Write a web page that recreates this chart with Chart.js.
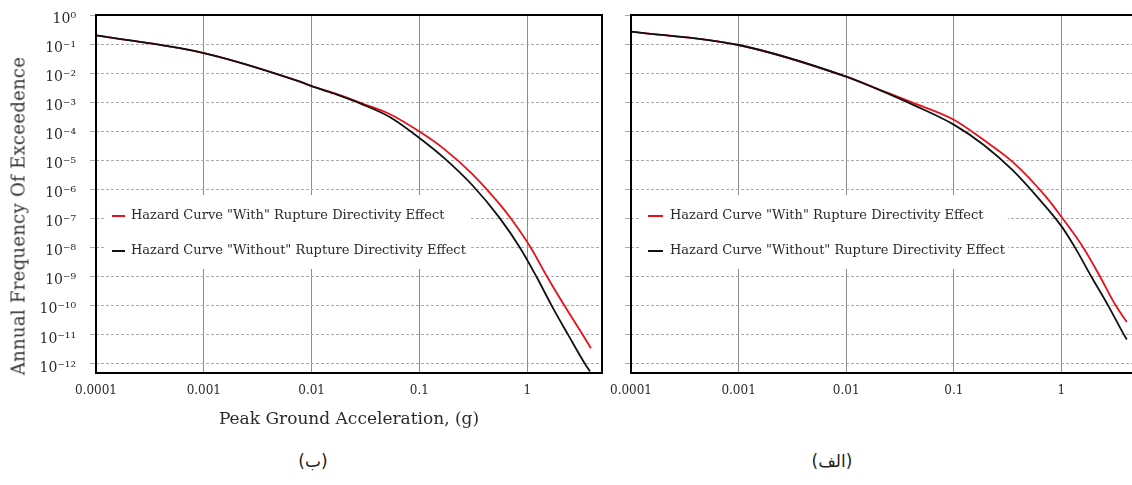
<!DOCTYPE html>
<html>
<head>
<meta charset="utf-8">
<script src="https://cdn.jsdelivr.net/npm/chart.js@4.4.1/dist/chart.umd.min.js"></script>
<style>
  body { margin: 0; background: #fff; width: 1132px; height: 485px; position: relative; overflow: hidden; font-family: "DejaVu Serif", serif; }
  canvas { position: absolute; top: 0; }
  #chart-b { left: 0; }
  #chart-alef { left: 560px; }
  .y-title { position: absolute; left: 18px; top: 216px; transform: translate(-50%, -50%) rotate(-90deg); white-space: nowrap; font-size: 18px; letter-spacing: 0.3px; color: #333; }
  .caption { position: absolute; top: 461px; transform: translate(-50%, -50%); font-family: "DejaVu Sans", sans-serif; font-size: 17px; color: #222; }
</style>
</head>
<body>
<canvas id="chart-b" width="612" height="440"></canvas>
<canvas id="chart-alef" width="572" height="440"></canvas>
<div class="y-title">Annual Frequency Of Exceedence</div>
<div class="caption" style="left:313px">(ب)</div>
<div class="caption" style="left:832px">(الف)</div>
<script>
// Axis ticks
const xTicks = [0.0001, 0.001, 0.01, 0.1, 1];
const xTickLabels = ['0.0001', '0.001', '0.01', '0.1', '1'];
const yTicks = [1, 1e-1, 1e-2, 1e-3, 1e-4, 1e-5, 1e-6, 1e-7, 1e-8, 1e-9, 1e-10, 1e-11, 1e-12];
const yTickLabels = ['10⁰', '10⁻¹', '10⁻²', '10⁻³', '10⁻⁴', '10⁻⁵', '10⁻⁶', '10⁻⁷', '10⁻⁸', '10⁻⁹', '10⁻¹⁰', '10⁻¹¹', '10⁻¹²'];

const seriesLabels = ['Hazard Curve "With" Rupture Directivity Effect', 'Hazard Curve "Without" Rupture Directivity Effect'];

// Panel (ب) - left
const pgaB_with = [0.0001, 0.001, 0.0078, 0.01, 0.016, 0.030, 0.054, 0.1, 0.17, 0.31, 0.56, 0.72, 1.08, 1.53, 2.22, 3.28, 3.9];
const freqB_with = [0.20, 0.049, 0.0051, 0.0036, 0.0021, 8.9e-4, 3.8e-4, 9.8e-5, 2.45e-5, 3.4e-6, 3.0e-7, 9.1e-8, 1e-8, 1e-9, 1e-10, 1e-11, 3.5e-12];
const pgaB_without = [0.0001, 0.001, 0.0078, 0.01, 0.016, 0.030, 0.054, 0.1, 0.17, 0.31, 0.55, 0.857, 1.22, 1.69, 2.40, 3.44, 3.83];
const freqB_without = [0.20, 0.049, 0.0051, 0.0036, 0.002, 8.3e-4, 3.0e-4, 5.9e-5, 1.2e-5, 1.4e-6, 1.1e-7, 1e-8, 1e-9, 1e-10, 1e-11, 1e-12, 5.5e-13];

// Panel (الف) - right
const pgaA_with = [0.0001, 0.001, 0.01, 0.020, 0.042, 0.1, 0.19, 0.35, 0.72, 1.0, 1.6, 2.29, 3.21, 4.05];
const freqA_with = [0.27, 0.093, 0.0076, 0.0028, 9.5e-4, 2.5e-4, 5.0e-5, 9.1e-6, 5.6e-7, 1.15e-7, 1e-8, 1e-9, 1e-10, 2.8e-11];
const pgaA_without = [0.0001, 0.001, 0.01, 0.020, 0.042, 0.1, 0.19, 0.35, 0.63, 1.0, 1.34, 1.9, 2.73, 3.82, 4.05];
const freqA_without = [0.27, 0.093, 0.0076, 0.0027, 8.1e-4, 1.7e-4, 3.4e-5, 4.7e-6, 4.4e-7, 5.5e-8, 1e-8, 1e-9, 1e-10, 1e-11, 7e-12];

function toPoints(xs, ys) {
    return xs.map((x, i) => ({ x: x, y: ys[i] }));
}

// Black frame around the plot area
const framePlugin = {
    id: 'frame',
    afterDatasetsDraw(chart, args, opts) {
        const { ctx, chartArea: a } = chart;
        ctx.save();
        ctx.strokeStyle = '#000';
        ctx.lineWidth = 2;
        ctx.beginPath();
        ctx.moveTo(a.left - 1, a.top); ctx.lineTo(a.right + 1, a.top);
        ctx.moveTo(a.left - 1, a.bottom); ctx.lineTo(a.right + 1, a.bottom);
        ctx.moveTo(a.left, a.top); ctx.lineTo(a.left, a.bottom);
        if (opts.right) { ctx.moveTo(a.right, a.top); ctx.lineTo(a.right, a.bottom); }
        ctx.stroke();
        ctx.restore();
    }
};

// Legend drawn inside the plot, with white box under it
const insideLegend = {
    id: 'insideLegend',
    afterDatasetsDraw(chart, args, opts) {
        const { ctx, chartArea: a } = chart;
        const sets = chart.data.datasets;
        ctx.save();
        ctx.font = '13px "DejaVu Serif"';
        const textX = a.left + opts.text;
        const widest = Math.max(...sets.map(d => ctx.measureText(d.label).width));
        ctx.fillStyle = '#fff';
        ctx.fillRect(a.left + 9, a.top + 180, textX - a.left - 9 + widest + 3, 74);
        sets.forEach((d, i) => {
            const y = a.top + 201 + i * 35;
            ctx.strokeStyle = d.borderColor;
            ctx.lineWidth = 2;
            ctx.beginPath();
            ctx.moveTo(a.left + opts.lineFrom, y);
            ctx.lineTo(a.left + opts.lineTo, y);
            ctx.stroke();
            ctx.fillStyle = '#2a2a2a';
            ctx.textBaseline = 'middle';
            ctx.fillText(d.label, textX, y);
        });
        ctx.restore();
    }
};

function makePanel(id, withPts, withoutPts, cfg) {
    const ctx = document.getElementById(id).getContext('2d');
    return new Chart(ctx, {
        type: 'line',
        data: {
            datasets: [{
                label: seriesLabels[0],
                data: withPts,
                borderColor: '#e8101a',
                borderWidth: 1.8,
                pointRadius: 0,
                cubicInterpolationMode: 'monotone',
                order: 1
            }, {
                label: seriesLabels[1],
                data: withoutPts,
                borderColor: '#111',
                borderWidth: 1.8,
                pointRadius: 0,
                cubicInterpolationMode: 'monotone',
                order: 0
            }]
        },
        options: {
            responsive: false,
            animation: false,
            devicePixelRatio: 1,
            layout: { padding: { top: 15, right: cfg.padRight, left: 0, bottom: 0 } },
            plugins: {
                legend: { display: false },
                tooltip: { enabled: false },
                frame: { right: cfg.frameRight },
                insideLegend: cfg.legend
            },
            scales: {
                x: {
                    type: 'logarithmic',
                    min: 0.0001,
                    max: cfg.xMax,
                    afterBuildTicks: axis => { axis.ticks = xTicks.map(v => ({ value: v })); },
                    afterFit: axis => { axis.height = 67; },
                    grid: { color: '#8c8c8c', lineWidth: 1, drawTicks: false },
                    border: { display: false },
                    ticks: {
                        autoSkip: false,
                        maxRotation: 0,
                        padding: 11,
                        color: '#2a2a2a',
                        font: { family: 'DejaVu Serif', size: 12 },
                        callback: (v, i) => xTickLabels[i]
                    },
                    title: {
                        display: cfg.showTitle,
                        text: 'Peak Ground Acceleration, (g)',
                        color: '#2a2a2a',
                        font: { family: 'DejaVu Serif', size: 17 },
                        padding: { top: 0, bottom: 10 }
                    }
                },
                y: {
                    type: 'logarithmic',
                    min: 4.9e-13,
                    max: 1,
                    afterBuildTicks: axis => { axis.ticks = yTicks.map(v => ({ value: v })); },
                    afterFit: axis => {
                        axis.width = cfg.yWidth;
                        axis.paddingTop = 0;
                        axis.paddingBottom = 0;
                    },
                    grid: { color: '#ababab', lineWidth: 1, tickLength: 6 },
                    border: { display: false, dash: [3, 2] },
                    ticks: {
                        display: cfg.showYLabels,
                        padding: 14,
                        labelOffset: 4,
                        color: '#2a2a2a',
                        font: { family: 'DejaVu Serif', size: 14 },
                        callback: (v, i) => yTickLabels[i]
                    }
                }
            }
        },
        plugins: [framePlugin, insideLegend]
    });
}

makePanel('chart-b', toPoints(pgaB_with, freqB_with), toPoints(pgaB_without, freqB_without), {
    padRight: 10, xMax: 4.94, yWidth: 96, showYLabels: true, showTitle: true, frameRight: true,
    legend: { lineFrom: 16, lineTo: 29, text: 35 }
});

makePanel('chart-alef', toPoints(pgaA_with, freqA_with), toPoints(pgaA_without, freqA_without), {
    padRight: 0, xMax: 4.53, yWidth: 71, showYLabels: false, showTitle: false, frameRight: false,
    legend: { lineFrom: 17, lineTo: 32, text: 39 }
});
</script>
</body>
</html>
